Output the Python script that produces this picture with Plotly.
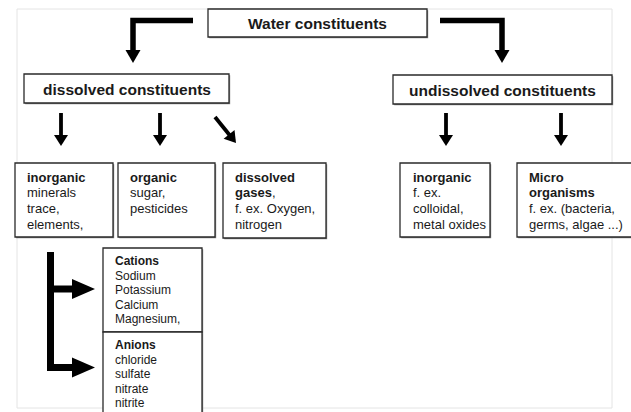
import plotly.graph_objects as go

# ---------------- data (texts) ----------------
ROOT_LABEL = "Water constituents"
LEVEL1_LABELS = ["dissolved constituents", "undissolved constituents"]
LEVEL2_HEADINGS = [["inorganic"], ["organic"], ["dissolved", "gases"], ["inorganic"], ["Micro", "organisms"]]
LEVEL2_HEAD_SUFFIX = [[""], [""], ["", ","], [""], ["", ""]]
LEVEL2_DETAILS = [
    ["minerals", "trace,", "elements,"],
    ["sugar,", "pesticides"],
    ["f. ex. Oxygen,", "nitrogen"],
    ["f. ex.", "colloidal,", "metal oxides"],
    ["f. ex. (bacteria,", "germs, algae ...)"],
]
ION_HEADINGS = ["Cations", "Anions"]
ION_DETAILS = [
    ["Sodium", "Potassium", "Calcium", "Magnesium,"],
    ["chloride", "sulfate", "nitrate", "nitrite"],
]

# ---------------- layout geometry (pixels, y downward) ----------------
W, H = 631, 412
FONT = "Liberation Sans, Arial, sans-serif"
INK = "#1a1a1a"

root_box = (208, 9, 427, 37)
level1_boxes = [(24, 74, 229, 103), (393, 75, 612, 104)]
level2_boxes = [(15, 163, 113, 237), (118, 163, 215, 237), (223, 163, 326, 238),
                (400, 163, 490, 237), (517, 163, 640, 237)]
level2_text_x = [25, 128, 233, 411, 527]
ion_boxes = [(103, 248, 202, 332), (103, 332, 202, 420)]
ion_text_x = 113

shapes = []
annotations = []


def box(b):
    x0, y0, x1, y1 = b
    shapes.append(dict(type="rect", x0=x0 + 1.2, y0=y0 + 1.2, x1=x1 + 1.2, y1=y1 + 1.2,
                       line=dict(width=0), fillcolor="#8a8a8a", layer="above"))
    shapes.append(dict(type="rect", x0=x0, y0=y0, x1=x1, y1=y1,
                       line=dict(width=1.3, color="#2a2a2a"), fillcolor="white", layer="above"))


def text(x, y, s, size, bold=False, anchor="left"):
    annotations.append(dict(x=x, y=y, xref="x", yref="y", text=("<b>%s</b>" % s) if bold else s,
                            showarrow=False, xanchor=anchor, yanchor="middle",
                            font=dict(family=FONT, size=size, color=INK)))


def poly(points, width):
    d = "M " + " L ".join("%g,%g" % p for p in points)
    shapes.append(dict(type="path", path=d, line=dict(width=width, color="black"), layer="above"))


def head(tip, base_center, half):
    tx, ty = tip
    bx, by = base_center
    dx, dy = tx - bx, ty - by
    n = (dx * dx + dy * dy) ** 0.5
    px, py = -dy / n * half, dx / n * half
    d = "M %g,%g L %g,%g L %g,%g Z" % (tx, ty, bx + px, by + py, bx - px, by - py)
    shapes.append(dict(type="path", path=d, line=dict(width=0), fillcolor="black", layer="above"))


def arrow(points, width, hlen, half):
    # points: polyline ending at the tip
    (ax, ay), (tx, ty) = points[-2], points[-1]
    dx, dy = tx - ax, ty - ay
    n = (dx * dx + dy * dy) ** 0.5
    bx, by = tx - dx / n * hlen, ty - dy / n * hlen
    poly(points[:-1] + [(bx + dx / n * 1, by + dy / n * 1)], width)
    head((tx, ty), (bx, by), half)


# outer light frame
shapes.append(dict(type="rect", x0=17, y0=9, x1=612, y1=408,
                   line=dict(width=1, color="#e4e4e4"), fillcolor="rgba(0,0,0,0)", layer="below"))

# root
box(root_box)
text((root_box[0] + root_box[2]) / 2, (root_box[1] + root_box[3]) / 2 + 0.5, ROOT_LABEL, 15.5, True, "center")

# top elbow arrows
arrow([(193, 20.5), (133, 20.5), (133, 63)], 5.5, 13, 7.5)
arrow([(440, 20.5), (502, 20.5), (502, 63)], 5.5, 13, 7.5)

# level 1
for b, lab in zip(level1_boxes, LEVEL1_LABELS):
    box(b)
    text((b[0] + b[2]) / 2, (b[1] + b[3]) / 2 + 0.5, lab, 15.5, True, "center")

# small arrows
for x in [61, 160, 446, 561]:
    arrow([(x, 113), (x, 146)], 3.8, 11, 7)
arrow([(215, 117), (236, 143)], 3.8, 11, 7)

# level 2 boxes
line_gap = 15.7
for b, tx, heads, sufs, details in zip(level2_boxes, level2_text_x, LEVEL2_HEADINGS,
                                       LEVEL2_HEAD_SUFFIX, LEVEL2_DETAILS):
    box(b)
    y = 177
    for h, s in zip(heads, sufs):
        annotations.append(dict(x=tx, y=y, xref="x", yref="y", text="<b>%s</b>%s" % (h, s),
                                showarrow=False, xanchor="left", yanchor="middle",
                                font=dict(family=FONT, size=13, color=INK)))
        y += line_gap
    for dline in details:
        text(tx, y, dline, 13)
        y += line_gap

# bracket with arrows to ion boxes
poly([(50.5, 252), (50.5, 367.5)], 7)
arrow([(50.5, 289), (95, 289)], 7, 23, 10)
arrow([(47, 367.5), (95, 367.5)], 7, 23, 10)

# ion boxes
for b, h, details in zip(ion_boxes, ION_HEADINGS, ION_DETAILS):
    box(b)
    y = b[1] + 13
    text(ion_text_x, y, h, 12, True)
    for dline in details:
        y += 14.5
        text(ion_text_x, y, dline, 12)

fig = go.Figure()
fig.update_layout(
    width=W, height=H,
    margin=dict(l=0, r=0, t=0, b=0),
    paper_bgcolor="white", plot_bgcolor="white",
    xaxis=dict(range=[0, W], visible=False, fixedrange=True),
    yaxis=dict(range=[H, 0], visible=False, fixedrange=True),
    shapes=shapes, annotations=annotations, showlegend=False,
)
fig.write_html(
    "out.html",
    config={"displayModeBar": False},
    post_script="document.body.style.margin='0';document.body.style.overflow='hidden';",
)
